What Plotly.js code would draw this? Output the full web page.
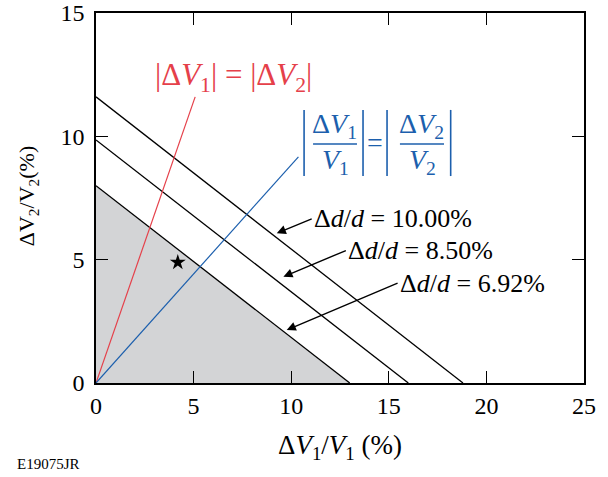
<!DOCTYPE html>
<html>
<head>
<meta charset="utf-8">
<script src="https://cdn.plot.ly/plotly-3.0.1.min.js"></script>
<style>
  html, body { margin: 0; padding: 0; background: #fff; }
  #chart { width: 608px; height: 477px; }
</style>
</head>
<body>
<div id="chart"></div>
<script>
// Δd/d lines: intercepts on each axis (%)
var ddLabels = ['6.92%', '8.50%', '10.00%'];
var xIntercepts = [13.0, 16.0, 18.8];
var yIntercepts = [8.0, 9.85, 11.6];

// |ΔV1| = |ΔV2| (red) and |ΔV1/V1| = |ΔV2/V2| (blue)
var redX = [0, 5.08];
var redY = [0, 11.6];
var blueX = [0, 10.37];
var blueY = [0, 9.17];

// operating point
var starX = [4.19];
var starY = [4.89];

// arrow heads (on the lines) and label anchors
var arrowHeadX = [9.77, 9.60, 9.26];
var arrowHeadY = [2.15, 4.31, 6.07];
var labelX = [15.45, 12.8, 11.05];
var labelY = [4.05, 5.37, 6.65];

var xTicks = [0, 5, 10, 15, 20, 25];
var yTicks = [0, 5, 10, 15];

var serif = "'Liberation Serif', 'Times New Roman', Times, serif";
var red = '#e5404a';
var blue = '#1c5fad';
var traces = [];

// shaded region below the 6.92% line
traces.push({
    x: [0, xIntercepts[0]],
    y: [yIntercepts[0], 0],
    mode: 'lines',
    fill: 'tozeroy',
    fillcolor: '#d3d4d6',
    line: { color: '#000', width: 1.3 },
    hoverinfo: 'skip'
});

for (var i = 1; i < xIntercepts.length; i++) {
    traces.push({
        x: [0, xIntercepts[i]],
        y: [yIntercepts[i], 0],
        mode: 'lines',
        line: { color: '#000', width: 1.3 },
        hoverinfo: 'skip'
    });
}

traces.push({ x: redX, y: redY, mode: 'lines', line: { color: red, width: 1.2 } });
traces.push({ x: blueX, y: blueY, mode: 'lines', line: { color: blue, width: 1.2 } });
traces.push({
    x: starX, y: starY, mode: 'markers',
    marker: { symbol: 'star', size: 12, color: '#000', line: { width: 0 } }
});

var annotations = [];

// Δd/d labels with arrows
for (var k = 0; k < ddLabels.length; k++) {
    annotations.push({
        x: arrowHeadX[k], y: arrowHeadY[k], xref: 'x', yref: 'y',
        ax: labelX[k], ay: labelY[k], axref: 'x', ayref: 'y',
        text: 'Δ<i>d</i>/<i>d</i> = ' + ddLabels[k],
        xanchor: 'left', yanchor: 'middle',
        showarrow: true, arrowhead: 2, arrowsize: 1.3, arrowwidth: 1.4, arrowcolor: '#000',
        font: { family: serif, size: 26, color: '#000' }
    });
}

// red label
annotations.push({
    x: 7.02, y: 12.4, xref: 'x', yref: 'y', showarrow: false,
    text: '|Δ<i>V</i><sub>1</sub>| = |Δ<i>V</i><sub>2</sub>|',
    font: { family: serif, size: 31, color: red }
});

// blue label, built as two fractions
var fracTop = ['Δ<i>V</i><sub>1</sub>', 'Δ<i>V</i><sub>2</sub>'];
var fracBot = ['<i>V</i><sub>1</sub>', '<i>V</i><sub>2</sub>'];
var fracX = [12.24, 16.7];
for (var f = 0; f < 2; f++) {
    annotations.push({ x: fracX[f], y: 10.42, xref: 'x', yref: 'y', showarrow: false,
        text: fracTop[f], font: { family: serif, size: 28, color: blue } });
    annotations.push({ x: fracX[f] + 0.05, y: 8.98, xref: 'x', yref: 'y', showarrow: false,
        text: fracBot[f], font: { family: serif, size: 28, color: blue } });
}
annotations.push({ x: 14.3, y: 9.75, xref: 'x', yref: 'y', showarrow: false,
    text: '=', font: { family: serif, size: 28, color: blue } });

var shapes = [];
var barX = [10.66, 13.68, 14.91, 18.17];
barX.forEach(function (bx) {
    shapes.push({ type: 'line', xref: 'x', yref: 'y', x0: bx, x1: bx, y0: 8.39, y1: 11.07,
        line: { color: blue, width: 1.6 } });
});
shapes.push({ type: 'line', xref: 'x', yref: 'y', x0: 11.12, x1: 13.37, y0: 9.69, y1: 9.69,
    line: { color: blue, width: 1.3 } });
shapes.push({ type: 'line', xref: 'x', yref: 'y', x0: 15.57, x1: 17.83, y0: 9.69, y1: 9.69,
    line: { color: blue, width: 1.3 } });

// axis titles
annotations.push({
    x: 0.5, y: -0.224, xref: 'paper', yref: 'paper', showarrow: false,
    text: 'Δ<i>V</i><sub>1</sub>/<i>V</i><sub>1</sub> (%)',
    font: { family: serif, size: 27, color: '#000' }
});
annotations.push({
    x: -0.172, y: 0.505, xref: 'paper', yref: 'paper', showarrow: false, textangle: -90,
    text: 'ΔV<sub>2</sub>/V<sub>2</sub>(%)',
    font: { family: serif, size: 22, color: '#000' }
});
annotations.push({
    x: -0.166, y: -0.245, xref: 'paper', yref: 'paper', showarrow: false,
    xanchor: 'left', text: 'E19075JR',
    font: { family: serif, size: 15, color: '#000' }
});

var axisBase = {
    showgrid: false, zeroline: false,
    showline: true, linecolor: '#000', linewidth: 1.5, mirror: 'allticks',
    ticks: 'inside', ticklen: 12, tickwidth: 1.3, tickcolor: '#000',
    tickfont: { family: serif, size: 24, color: '#000' },
    fixedrange: true
};

var layout = {
    width: 608, height: 477,
    margin: { l: 96, r: 24, t: 13, b: 94 },
    paper_bgcolor: '#fff', plot_bgcolor: '#fff',
    font: { family: serif },
    showlegend: false,
    xaxis: Object.assign({}, axisBase, { range: [0, 25], tickvals: xTicks }),
    yaxis: Object.assign({}, axisBase, { range: [0, 15], tickvals: yTicks, ticklabelstandoff: 5 }),
    annotations: annotations,
    shapes: shapes
};

Plotly.newPlot('chart', traces, layout, { displayModeBar: false });
</script>
</body>
</html>
